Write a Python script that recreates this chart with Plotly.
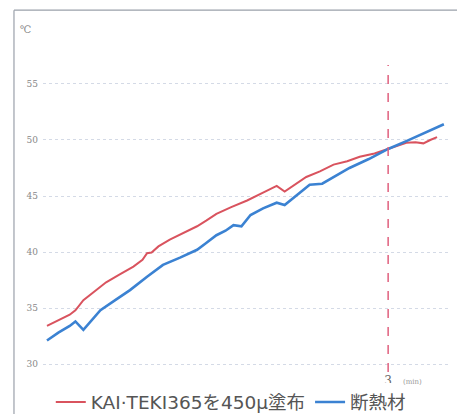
import plotly.graph_objects as go

# time in minutes, temperature in °C
red_t = [0.00, 0.10, 0.20, 0.25, 0.32, 0.42, 0.52, 0.64, 0.76, 0.84, 0.88, 0.92, 0.98, 1.08,
         1.20, 1.32, 1.40, 1.49, 1.62, 1.76, 1.90, 2.02, 2.09, 2.18, 2.28, 2.40, 2.52, 2.64,
         2.75, 2.88, 3.00, 3.08, 3.16, 3.24, 3.31, 3.37, 3.43]
red_v = [33.4, 33.9, 34.4, 34.8, 35.7, 36.5, 37.3, 38.0, 38.7, 39.3, 39.9, 39.95, 40.5, 41.1,
         41.7, 42.3, 42.8, 43.4, 44.0, 44.6, 45.3, 45.9, 45.4, 46.0, 46.7, 47.2, 47.8, 48.1,
         48.5, 48.8, 49.2, 49.5, 49.75, 49.8, 49.7, 50.0, 50.25]

blue_t = [0.00, 0.10, 0.20, 0.25, 0.32, 0.40, 0.47, 0.60, 0.73, 0.88, 1.02, 1.17, 1.32,
          1.40, 1.49, 1.57, 1.64, 1.71, 1.79, 1.90, 2.02, 2.09, 2.20, 2.31, 2.42, 2.54,
          2.66, 2.83, 3.00, 3.16, 3.33, 3.49]
blue_v = [32.1, 32.8, 33.4, 33.8, 33.05, 34.0, 34.8, 35.7, 36.6, 37.8, 38.85, 39.5, 40.2,
          40.8, 41.5, 41.9, 42.4, 42.3, 43.3, 43.9, 44.4, 44.2, 45.1, 46.0, 46.1, 46.8,
          47.5, 48.3, 49.2, 49.9, 50.7, 51.4]

y_ticks = [30, 35, 40, 45, 50, 55]
x_ticks = [3]
x_tick_text = ["3"]
marker_time = 3

names = ["KAI·TEKI365を450\u03bc塗布", "断熱材"]

fig = go.Figure()
fig.add_trace(go.Scatter(x=red_t, y=red_v, mode="lines", name=names[0],
                         line=dict(color="#d9535e", width=2)))
fig.add_trace(go.Scatter(x=blue_t, y=blue_v, mode="lines", name=names[1],
                         line=dict(color="#3b82d2", width=2.6)))

fig.add_shape(type="line", xref="x", yref="paper", x0=marker_time, x1=marker_time,
              y0=0, y1=0.872, line=dict(color="#e0607e", width=1.5, dash="dash"))

# partial frame
fig.add_shape(type="line", xref="paper", yref="paper", x0=-0.0713, x1=-0.0713,
              y0=1.028, y1=-0.13, line=dict(color="#9aa0aa", width=1.2))
fig.add_shape(type="line", xref="paper", yref="paper", x0=-0.0713, x1=1.03,
              y0=1.028, y1=1.028, line=dict(color="#9aa0aa", width=1.2))

fig.add_annotation(text="℃", xref="paper", yref="paper", x=-0.062, y=0.995,
                   showarrow=False, font=dict(size=10, color="#888888", family="DejaVu Serif"))
fig.add_annotation(text="(min)", xref="paper", yref="paper", x=0.935, y=-0.045,
                   showarrow=False, font=dict(size=7, color="#999999", family="DejaVu Serif"))

fig.update_layout(
    width=457, height=414,
    margin=dict(l=43, r=7, t=20, b=42, autoexpand=False),
    paper_bgcolor="white", plot_bgcolor="white",
    showlegend=True,
    legend=dict(orientation="h", x=0.505, xanchor="center", xref="container",
                y=0.028, yanchor="middle", yref="container",
                font=dict(size=18.5, color="#555555", family="DejaVu Sans, Noto Sans CJK JP"),
                itemwidth=30, tracegroupgap=0),
    xaxis=dict(range=[-0.035, 3.544], tickvals=x_ticks, ticktext=x_tick_text,
               showgrid=False, zeroline=False, showline=False, ticks="",
               tickfont=dict(size=12, color="#666666", family="DejaVu Serif")),
    yaxis=dict(range=[29.29, 60.71], tickvals=y_ticks, showgrid=True,
               gridcolor="#d4dae6", griddash="dot", gridwidth=1, zeroline=False,
               showline=False, ticks="", ticklabelstandoff=4,
               tickfont=dict(size=9, color="#888888", family="DejaVu Serif")),
)

fig.write_html("out.html", config={"displayModeBar": False},
               post_script="document.body.style.margin='0';document.body.style.padding='0';")
